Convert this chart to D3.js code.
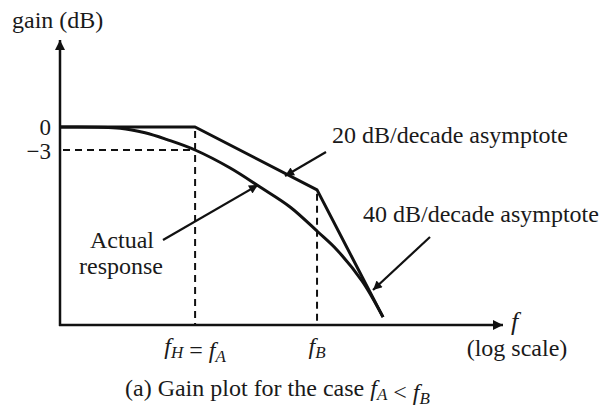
<!DOCTYPE html>
<html><head><meta charset="utf-8">
<script src="https://cdn.jsdelivr.net/npm/d3@7"></script>
<style>
html,body{margin:0;padding:0;background:#fff;}
text{font-family:"Liberation Serif","Times New Roman",serif;fill:#1a1a1a;}
</style></head>
<body><svg id="c" width="611" height="409"></svg>
<script>
// frequencies (log scale, fA = 10, fB = 100) and gains (dB, schematic)
const fA = 10, fB = 100;
const freqDomain = [0.78, 3350];
const gainDomain = [-25.83, 11.35];
const asymFreq = [0.78, 10, 100, 347.6];
const asymGain = [0, 0, -8.2, -24.8];
const actualFreq = [0.78, 2.43, 3.89, 5.9, 10, 19.4, 34.1, 60.1, 101.9, 145.8, 233.8, 347.6];
const actualGain = [0, -0.15, -0.75, -1.65, -3, -5.35, -7.83, -10.43, -13.7, -16.04, -20.09, -24.8];
const yTicks = [0, -3];
const yTickLabels = ["0", "\u22123"];

const svg = d3.select("#c");
const x = d3.scaleLog().domain(freqDomain).range([60, 503]);
const y = d3.scaleLinear().domain(gainDomain).range([325, 40]);
const ink = "#111";

const defs = svg.append("defs");
function marker(id, w, h) {
  defs.append("marker").attr("id", id).attr("viewBox", "0 0 10 10")
    .attr("refX", 10).attr("refY", 5).attr("markerWidth", w).attr("markerHeight", h)
    .attr("markerUnits", "userSpaceOnUse").attr("orient", "auto")
    .append("path").attr("d", "M0,0 L10,5 L0,10 Z").attr("fill", ink);
}
marker("big", 16, 10);
marker("small", 14, 9);

// dashed guides
const dash = svg.append("g").attr("stroke", ink).attr("stroke-width", 2).attr("stroke-dasharray", "7,5").attr("fill", "none");
dash.append("line").attr("x1", x(freqDomain[0]) + 3).attr("x2", x(fA)).attr("y1", y(-3)).attr("y2", y(-3));
dash.append("line").attr("x1", x(fA)).attr("x2", x(fA)).attr("y1", y(0) + 4).attr("y2", y(gainDomain[0]));
dash.append("line").attr("x1", x(fB)).attr("x2", x(fB)).attr("y1", y(-8.2) + 4).attr("y2", y(gainDomain[0]));

// axes
svg.append("line").attr("x1", x(freqDomain[0])).attr("x2", x(freqDomain[0]))
  .attr("y1", y(gainDomain[0]) + 1).attr("y2", y(gainDomain[1]))
  .attr("stroke", ink).attr("stroke-width", 2.5).attr("marker-end", "url(#big)");
svg.append("line").attr("x1", x(freqDomain[0]) - 1).attr("x2", x(freqDomain[1]))
  .attr("y1", y(gainDomain[0])).attr("y2", y(gainDomain[0]))
  .attr("stroke", ink).attr("stroke-width", 2.5).attr("marker-end", "url(#big)");

// curves
const line = d3.line().x(d => x(d[0])).y(d => y(d[1]));
svg.append("path").datum(d3.zip(asymFreq, asymGain)).attr("d", line)
  .attr("fill", "none").attr("stroke", ink).attr("stroke-width", 3).attr("stroke-linejoin", "round");
svg.append("path").datum(d3.zip(actualFreq, actualGain)).attr("d", line.curve(d3.curveCatmullRom))
  .attr("fill", "none").attr("stroke", ink).attr("stroke-width", 3);

// y tick labels
yTicks.forEach((t, i) => {
  svg.append("text").attr("x", 51).attr("y", y(t) + (i === 0 ? 8 : 9)).attr("text-anchor", "end")
    .attr("font-size", 23).text(yTickLabels[i]);
});

// annotation arrows
const arr = svg.append("g").attr("stroke", ink).attr("stroke-width", 2.2).attr("marker-end", "url(#small)");
arr.append("line").attr("x1", 326).attr("y1", 152).attr("x2", 285).attr("y2", 176);
arr.append("line").attr("x1", 430).attr("y1", 237).attr("x2", 373).attr("y2", 290);
arr.append("line").attr("x1", 163).attr("y1", 240).attr("x2", 258).attr("y2", 185);

// texts
const T = (tx, ty, s, anchor, size) => svg.append("text").attr("x", tx).attr("y", ty)
  .attr("text-anchor", anchor || "start").attr("font-size", size || 24).text(s);
T(12, 28, "gain (dB)");
T(332, 143, "20 dB/decade asymptote");
T(363, 222, "40 dB/decade asymptote");
T(122, 248, "Actual", "middle");
T(121, 274, "response", "middle");
T(517, 356, "(log scale)", "middle");

svg.append("text").attr("x", 511).attr("y", 330).attr("font-size", 26).attr("font-style", "italic").text("f");

function fsub(g, sub) {
  g.append("tspan").attr("font-style", "italic").text("f");
  g.append("tspan").attr("font-style", "italic").attr("font-size", 17).attr("dy", 4).text(sub);
  g.append("tspan").attr("dy", -4).text("");
}
const l1 = svg.append("text").attr("x", x(fA)).attr("y", 354).attr("text-anchor", "middle").attr("font-size", 24);
fsub(l1, "H"); l1.append("tspan").text(" = "); fsub(l1, "A");
const l2 = svg.append("text").attr("x", x(fB)).attr("y", 354).attr("text-anchor", "middle").attr("font-size", 24);
fsub(l2, "B");

const cap = svg.append("text").attr("x", 125).attr("y", 396).attr("font-size", 24);
cap.append("tspan").text("(a) Gain plot for the case ");
fsub(cap, "A"); cap.append("tspan").text(" < "); fsub(cap, "B");
</script></body></html>
